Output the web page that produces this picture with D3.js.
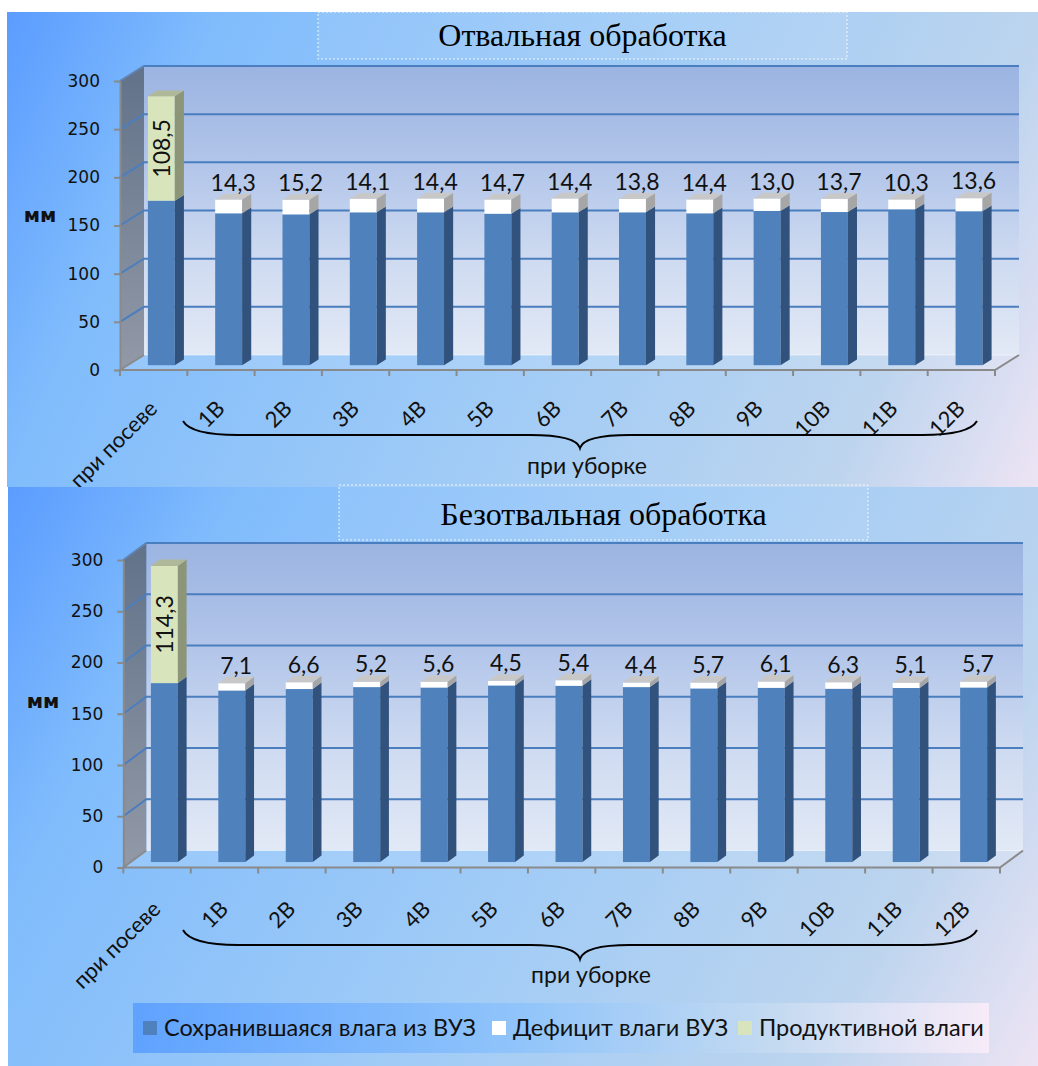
<!DOCTYPE html>
<html>
<head>
<meta charset="utf-8">
<script src="https://cdn.jsdelivr.net/npm/d3@7"></script>
<style>
  body { margin: 0; background: #ffffff; }
  svg { display: block; }
</style>
</head>
<body>
<script>
// ---- data -------------------------------------------------------------
const categories = ["при посеве", "1В", "2В", "3В", "4В", "5В", "6В", "7В", "8В", "9В", "10В", "11В", "12В"];
const yTicks = [0, 50, 100, 150, 200, 250, 300];

// Отвальная обработка, мм
const plowRetained   = [170.8, 157.7, 156.6, 158.7, 158.7, 157.3, 158.7, 158.7, 157.7, 160.1, 159.0, 161.8, 159.8];
const plowDeficit    = [null, 14.3, 15.2, 14.1, 14.4, 14.7, 14.4, 13.8, 14.4, 13.0, 13.7, 10.3, 13.6];
const plowProductive = [108.5, null, null, null, null, null, null, null, null, null, null, null, null];

// Безотвальная обработка, мм
const notillRetained   = [174.6, 167.4, 168.8, 170.7, 170.3, 172.3, 172.0, 170.7, 169.4, 170.0, 169.1, 169.8, 170.3];
const notillDeficit    = [null, 7.1, 6.6, 5.2, 5.6, 4.5, 5.4, 4.4, 5.7, 6.1, 6.3, 5.1, 5.7];
const notillProductive = [114.3, null, null, null, null, null, null, null, null, null, null, null, null];

const seriesNames = ["Сохранившаяся влага из ВУЗ", "Дефицит влаги ВУЗ", "Продуктивной влаги"];
const panelTitles = ["Отвальная обработка", "Безотвальная обработка"];
const unitLabel = "мм";
const harvestLabel = "при уборке";

// ---- styling ----------------------------------------------------------
const W = 1038, H = 1066;
const seriesColors = [
  { front: "#4f81bd", side: "#30527d", top: "#6f95c8" },
  { front: "#ffffff", side: "#a6a6a6", top: "#c8c8c8" },
  { front: "#d8e4bc", side: "#8c9577", top: "#b0b89a" }
];
const fmt = v => d3.format(".1f")(v).replace(".", ",");

const svg = d3.select("body").append("svg").attr("width", W).attr("height", H);
const defs = svg.append("defs");

function linGrad(id, attrs, stops) {
  const g = defs.append("linearGradient").attr("id", id);
  Object.entries(attrs).forEach(([k, v]) => g.attr(k, v));
  stops.forEach(([o, c]) => g.append("stop").attr("offset", o).attr("stop-color", c));
}
linGrad("wallGrad", { x1: 0, y1: 0, x2: 0, y2: 1 },
  [[0, "#9bb4e1"], [0.35, "#b3c6ea"], [0.7, "#d0dcf1"], [1, "#e2e9f6"]]);
linGrad("sideGrad", { x1: 0, y1: 0, x2: 0, y2: 1 },
  [[0, "#617289"], [1, "#9299a7"]]);
linGrad("legendGrad", { x1: 0, y1: 0, x2: 1, y2: 0 },
  [[0, "#5fa2ff"], [0.45, "#90c4fa"], [0.75, "#c4daf1"], [1, "#f7ebf8"]]);

const panels = [
  {
    id: "bgTop", left: 7, top: 12, bottom: 487,
    titleBox: [318, 12, 847, 59], titleY: 46,
    fx0: 120, fx1: 995, fy0: 370, k: 289 / 300, depth: [24, -15],
    unitPos: [40, 222], labelDy: 40,
    brace: { x0: 183, y0: 421, yh: 435, tipX: 580, tipY: 448, x1: 977 }, subY: 474, subX: 587
  },
  {
    id: "bgBottom", left: 8, top: 487, bottom: 1066,
    titleBox: [339, 485, 868, 540], titleY: 525,
    fx0: 123.3, fx1: 1000, fy0: 867.5, k: 307.5 / 300, depth: [23, -17],
    unitPos: [43, 708], labelDy: 43,
    brace: { x0: 183, y0: 930, yh: 945, tipX: 580, tipY: 959, x1: 977 }, subY: 983, subX: 591
  }
];

function drawPanel(cfg, title, retained, deficit, productive) {
  linGrad(cfg.id, { gradientUnits: "userSpaceOnUse", x1: cfg.left, y1: cfg.top, x2: W, y2: cfg.bottom },
    [[0, "#5b9cff"], [0.17, "#80bcfc"], [0.55, "#a2ccf6"], [0.83, "#bcd4ee"], [1, "#ede4f4"]]);

  const g = svg.append("g");
  g.append("rect")
    .attr("x", cfg.left).attr("y", cfg.top)
    .attr("width", W - cfg.left).attr("height", cfg.bottom - cfg.top)
    .attr("fill", `url(#${cfg.id})`);

  // title box
  const [tx0, ty0, tx1, ty1] = cfg.titleBox;
  g.append("rect")
    .attr("x", tx0).attr("y", ty0).attr("width", tx1 - tx0).attr("height", ty1 - ty0)
    .attr("fill", "rgba(255,255,255,0.08)")
    .attr("stroke", "rgba(255,255,255,0.85)").attr("stroke-width", 1)
    .attr("stroke-dasharray", "2,2");
  g.append("text")
    .attr("x", (tx0 + tx1) / 2).attr("y", cfg.titleY)
    .attr("text-anchor", "middle")
    .attr("font-family", "'Liberation Serif', 'Times New Roman', serif")
    .attr("font-size", 32).attr("fill", "#000")
    .text(title);

  const x = d3.scaleBand().domain(categories).range([cfg.fx0, cfg.fx1]);
  const y = d3.scaleLinear().domain([0, 300]).range([cfg.fy0, cfg.fy0 - 300 * cfg.k]);
  const [dx, dy] = cfg.depth;
  const yMax = y(300), y0 = y(0);

  // back wall, side wall and floor
  g.append("rect")
    .attr("x", cfg.fx0 + dx).attr("y", yMax + dy)
    .attr("width", cfg.fx1 - cfg.fx0).attr("height", y0 - yMax)
    .attr("fill", "url(#wallGrad)");
  g.append("polygon")
    .attr("points", [[cfg.fx0, yMax], [cfg.fx0 + dx, yMax + dy], [cfg.fx0 + dx, y0 + dy], [cfg.fx0, y0]].join(" "))
    .attr("fill", "url(#sideGrad)");
  g.append("polygon")
    .attr("points", [[cfg.fx0, y0], [cfg.fx1, y0], [cfg.fx1 + dx, y0 + dy], [cfg.fx0 + dx, y0 + dy]].join(" "))
    .attr("fill", "rgba(255,255,255,0.14)");
  g.append("line")
    .attr("x1", cfg.fx0 + dx).attr("x2", cfg.fx1 + dx)
    .attr("y1", y0 + dy).attr("y2", y0 + dy)
    .attr("stroke", "rgba(255,255,255,0.5)").attr("stroke-width", 1);

  // gridlines across side wall and back wall
  yTicks.filter(v => v > 0).forEach(v => {
    g.append("polyline")
      .attr("points", [[cfg.fx0, y(v)], [cfg.fx0 + dx, y(v) + dy], [cfg.fx1 + dx, y(v) + dy]].join(" "))
      .attr("fill", "none").attr("stroke", "#4a7ebf").attr("stroke-width", 2);
  });

  // floor edges
  g.append("polyline")
    .attr("points", [[cfg.fx0 + dx, y0 + dy], [cfg.fx0, y0], [cfg.fx1, y0], [cfg.fx1 + dx, y0 + dy]].join(" "))
    .attr("fill", "none").attr("stroke", "#8a8a8a").attr("stroke-width", 2);
  g.append("line")
    .attr("x1", cfg.fx0).attr("y1", yMax).attr("x2", cfg.fx0 + dx).attr("y2", yMax + dy)
    .attr("stroke", "#7d8796").attr("stroke-width", 1);

  // value axis on the front edge of the side wall
  const ax = g.append("g")
    .attr("transform", `translate(${cfg.fx0},0)`)
    .call(d3.axisLeft(y).tickValues(yTicks).tickSize(6).tickSizeOuter(0).tickPadding(14));
  ax.select(".domain").attr("stroke", "#8a8a8a").attr("stroke-width", 2);
  ax.selectAll(".tick line").attr("stroke", "#8a8a8a").attr("stroke-width", 2);
  ax.selectAll(".tick text")
    .attr("font-family", "'DejaVu Sans', sans-serif").attr("font-size", 17).attr("fill", "#111");

  // category ticks at band boundaries
  const edges = categories.map(c => x(c)).concat([x.range()[1]]);
  g.selectAll(".ctick").data(edges).join("line")
    .attr("x1", d => d).attr("x2", d => d)
    .attr("y1", y0).attr("y2", y0 + 6)
    .attr("stroke", "#8a8a8a").attr("stroke-width", 2);

  // bars
  const bw = x.bandwidth();
  const barW = bw * 0.4;
  const ox = dx * 0.32, oy = dy * 0.32;
  const ddx = dx * 0.38, ddy = dy * 0.38;

  categories.forEach((c, i) => {
    const segs = [{ v0: 0, v1: retained[i], s: 0 }];
    if (deficit[i] != null) segs.push({ v0: retained[i], v1: retained[i] + deficit[i], s: 1, label: deficit[i] });
    if (productive[i] != null) segs.push({ v0: retained[i], v1: retained[i] + productive[i], s: 2, label: productive[i] });
    const xl = x(c) + bw / 2 - barW / 2 + ox;
    const xr = xl + barW;
    segs.forEach((sg, j) => {
      const yt = y(sg.v1) + oy, yb = y(sg.v0) + oy;
      const col = seriesColors[sg.s];
      g.append("rect").attr("x", xl).attr("y", yt).attr("width", barW).attr("height", yb - yt)
        .attr("fill", col.front);
      g.append("polygon")
        .attr("points", [[xr, yt], [xr + ddx, yt + ddy], [xr + ddx, yb + ddy], [xr, yb]].join(" "))
        .attr("fill", col.side);
      if (j === segs.length - 1) {
        g.append("polygon")
          .attr("points", [[xl, yt], [xl + ddx, yt + ddy], [xr + ddx, yt + ddy], [xr, yt]].join(" "))
          .attr("fill", col.top);
      }
      if (sg.s === 1) {
        g.append("text")
          .attr("x", (xl + xr) / 2 + ddx / 2).attr("y", yt + ddy - 3)
          .attr("text-anchor", "middle")
          .attr("font-family", "Lato, sans-serif").attr("font-size", 23).attr("fill", "#111")
          .text(fmt(sg.label));
      }
      if (sg.s === 2) {
        g.append("text")
          .attr("transform", `translate(${(xl + xr) / 2},${(yt + yb) / 2}) rotate(-90)`)
          .attr("text-anchor", "middle").attr("dominant-baseline", "central")
          .attr("font-family", "Lato, sans-serif").attr("font-size", 23).attr("fill", "#111")
          .text(fmt(sg.label));
      }
    });
  });

  // rotated category labels
  g.selectAll(".clabel").data(categories).join("text")
    .attr("transform", d => `translate(${x(d) + bw / 2 + 5},${cfg.fy0 + cfg.labelDy}) rotate(-45)`)
    .attr("text-anchor", "end")
    .attr("font-family", "Lato, sans-serif").attr("font-size", 22).attr("fill", "#111")
    .text(d => d);

  // brace grouping the harvest samples
  const b = cfg.brace;
  const p = d3.path();
  p.moveTo(b.x0, b.y0);
  p.quadraticCurveTo(b.x0 + 8, b.yh, b.x0 + 55, b.yh);
  p.lineTo(b.tipX - 50, b.yh);
  p.quadraticCurveTo(b.tipX - 4, b.yh, b.tipX, b.tipY);
  p.quadraticCurveTo(b.tipX + 4, b.yh, b.tipX + 50, b.yh);
  p.lineTo(b.x1 - 55, b.yh);
  p.quadraticCurveTo(b.x1 - 8, b.yh, b.x1, b.y0);
  g.append("path").attr("d", p.toString())
    .attr("fill", "none").attr("stroke", "#000").attr("stroke-width", 2);
  g.append("text")
    .attr("x", cfg.subX).attr("y", cfg.subY).attr("text-anchor", "middle")
    .attr("font-family", "Lato, sans-serif").attr("font-size", 23).attr("fill", "#111")
    .text(harvestLabel);

  // unit label
  g.append("text")
    .attr("x", cfg.unitPos[0]).attr("y", cfg.unitPos[1]).attr("text-anchor", "middle")
    .attr("font-family", "'DejaVu Sans', sans-serif").attr("font-weight", "bold")
    .attr("font-size", 20).attr("fill", "#111")
    .text(unitLabel);
}

drawPanel(panels[0], panelTitles[0], plowRetained, plowDeficit, plowProductive);
drawPanel(panels[1], panelTitles[1], notillRetained, notillDeficit, notillProductive);

// legend
const lg = svg.append("g");
lg.append("rect").attr("x", 133).attr("y", 1003).attr("width", 856).attr("height", 50)
  .attr("fill", "url(#legendGrad)");
const legendX = [143, 492, 738];
seriesNames.forEach((name, i) => {
  lg.append("rect").attr("x", legendX[i]).attr("y", 1021).attr("width", 14).attr("height", 14)
    .attr("fill", seriesColors[i].front);
  lg.append("text").attr("x", legendX[i] + 21).attr("y", 1036)
    .attr("font-family", "Lato, sans-serif").attr("font-size", 23.5).attr("fill", "#111")
    .text(name);
});
</script>
</body>
</html>
